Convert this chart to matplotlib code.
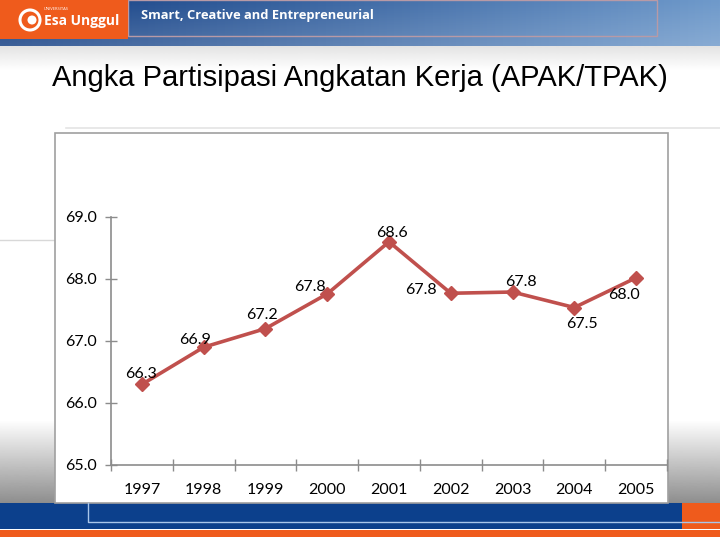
import matplotlib.pyplot as plt
import matplotlib.patches as mpatches
import numpy as np
from matplotlib.colors import to_rgb

# data
years = ['1997', '1998', '1999', '2000', '2001', '2002', '2003', '2004', '2005']
tpak = [66.3, 66.9, 67.2, 67.76, 68.6, 67.77, 67.79, 67.54, 68.02]
y_ticks = [65.0, 66.0, 67.0, 68.0, 69.0]

# where each data label sits relative to its point (pixels, x right / y up)
label_offsets = [(-1, 10), (-9, 7), (-3, 14), (-17, 7), (3, 9),
                 (-30, 3), (8, 10), (8, -16), (-12, -17)]

title = 'Angka Partisipasi Angkatan Kerja (APAK/TPAK)'
tagline = 'Smart, Creative and Entrepreneurial'

W, H = 720, 540
fig = plt.figure(figsize=(7.2, 5.4), dpi=100)
fig.patch.set_facecolor('white')

# slide background, drawn in pixel coordinates
bg = fig.add_axes([0, 0, 1, 1])
bg.axis('off')


def hgrad(c1, c2, n=256):
    a, b = np.array(to_rgb(c1)), np.array(to_rgb(c2))
    t = np.linspace(0, 1, n)[None, :, None]
    return a + (b - a) * t


def vfade(color, a0, a1, n=128):
    rgb = np.array(to_rgb(color))
    img = np.zeros((n, 1, 4))
    img[:, 0, :3] = rgb
    img[:, 0, 3] = np.linspace(a0, a1, n)
    return img


# header band
bg.imshow(hgrad('#123d82', '#6f9acb'), extent=(0, W, 46, 0), aspect='auto', zorder=1)
bg.imshow(vfade('#ffffff', 0.0, 0.18), extent=(0, W, 46, 0), aspect='auto', zorder=2)
bg.add_patch(mpatches.Rectangle((128, 0), 529, 36, fc='none', ec='#b89aa6', lw=1, zorder=3))
bg.add_patch(mpatches.Rectangle((0, 0), 128, 39, fc='#ef5b1c', ec='none', zorder=4))
bg.add_patch(mpatches.Circle((30, 20), 10, fc='none', ec='white', lw=2.2, zorder=5))
bg.add_patch(mpatches.Circle((32, 20), 4.5, fc='white', ec='none', zorder=5))
bg.text(44, 9, 'UNIVERSITAS', color='white', fontsize=3, family='Open Sans', zorder=6,
        ha='left', va='center')
bg.text(44, 21, 'Esa Unggul', color='white', fontsize=10, fontweight='bold',
        family='Open Sans', ha='left', va='center', zorder=6)
bg.text(141, 15, tagline, color='white', fontsize=9.3, fontweight='bold',
        family='Open Sans', ha='left', va='center', zorder=6)

# light grey swoosh under header and fades near bottom
bg.imshow(vfade('#c8c8c8', 0.5, 0.0), extent=(0, W, 70, 46), aspect='auto', zorder=1)
bg.imshow(vfade('#7a7a7a', 0.0, 0.85), extent=(0, W, 503, 420), aspect='auto', zorder=1)
bg.plot([66, W], [128, 128], color='#e4e4e4', lw=1.2, zorder=2)
bg.plot([0, 55], [240, 240], color='#d8d8d8', lw=1, zorder=2)

# white chart box
bg.add_patch(mpatches.Rectangle((54.5, 133), 613, 370, fc='white', ec='#a0a0a0',
                                lw=1.2, zorder=3))

# footer bands
bg.add_patch(mpatches.Rectangle((0, 503), 682, 26, fc='#0c408c', ec='none', zorder=2))
bg.add_patch(mpatches.Rectangle((682, 503), 38, 26, fc='#ef5b1c', ec='none', zorder=2))
bg.add_patch(mpatches.Rectangle((0, 530), W, 7, fc='#ef5b1c', ec='none', zorder=2))
bg.plot([88, 88, W], [503, 522, 522], color='#a9c6ea', lw=1, zorder=3)

bg.set_xlim(0, W)
bg.set_ylim(H, 0)

fig.text(360 / W, 1 - 78 / H, title, family='Liberation Sans', fontsize=21,
         ha='center', va='center', color='black')

# the chart itself
ax = fig.add_axes([111 / W, (H - 465) / H, (667 - 111) / W, (465 - 217) / H])
ax.patch.set_visible(False)
x = np.arange(len(years))
ax.plot(x, tpak, color='#c0504d', lw=2.6, marker='D', ms=7,
        mfc='#c0504d', mec='#c0504d', zorder=3)

for i, (v, (dx, dy)) in enumerate(zip(tpak, label_offsets)):
    ax.annotate(f'{v:.1f}', (x[i], v), xytext=(dx * 0.72, dy * 0.72),
                textcoords='offset points', ha='center', va='center',
                fontsize=11.5, family='Lato', color='black', zorder=4)

ax.set_xlim(-0.5, len(years) - 0.5)
ax.set_ylim(y_ticks[0], y_ticks[-1])
ax.set_yticks(y_ticks)
ax.set_yticklabels([f'{t:.1f}' for t in y_ticks])
ax.set_xticks(x)
ax.set_xticklabels(years)
ax.set_xticks(np.arange(-0.5, len(years)), minor=True)

for s in ['top', 'right']:
    ax.spines[s].set_visible(False)
for s in ['left', 'bottom']:
    ax.spines[s].set_color('#8c8c8c')
    ax.spines[s].set_linewidth(1.2)

ax.tick_params(axis='y', direction='inout', length=8, width=1, color='#8c8c8c',
               pad=6, labelsize=11.5)
ax.tick_params(axis='x', which='major', length=0, pad=13, labelsize=11.5)
ax.tick_params(axis='x', which='minor', direction='inout', length=8, width=1,
               color='#8c8c8c')
for lab in ax.get_xticklabels() + ax.get_yticklabels():
    lab.set_family('Lato')

fig.savefig('out.png', dpi=100)
